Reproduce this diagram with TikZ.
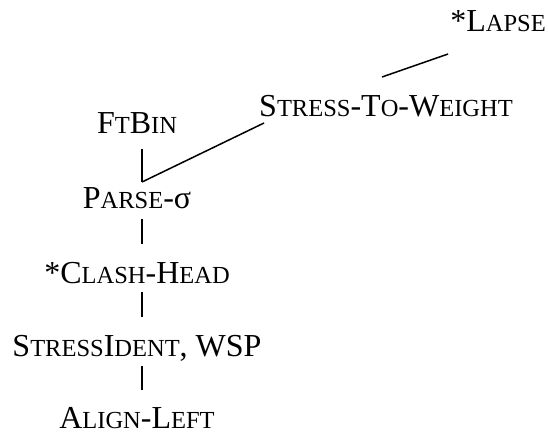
\documentclass[tikz,border=0pt]{standalone}
\usepackage{fontspec}
\setmainfont{Liberation Serif}
\usetikzlibrary{calc}
% faked small capitals: reduced upper-case letters
\newcommand\smc[1]{{\fontsize{24.5}{26}\selectfont #1}}
\tikzset{
  con/.style={font=\fontsize{32}{34}\selectfont, inner sep=0pt, anchor=base},
  link/.style={line width=1.5pt}
}
\begin{document}
\begin{tikzpicture}[x=1pt,y=-1pt]
\useasboundingbox (0,0) rectangle (548,434);
\node[con] (lapse)  at (498,31)  {*L\smc{APSE}};
\node[con] (stw)    at (386,116) {S\smc{TRESS}-T\smc{O}-W\smc{EIGHT}};
\node[con] (ftbin)  at (137,133) {F\smc{T}B\smc{IN}};
\node[con] (parse)  at (137,208) {P\smc{ARSE}-σ};
\node[con] (clash)  at (137,283) {*C\smc{LASH}-H\smc{EAD}};
\node[con] (ident)  at (137,356) {S\smc{TRESS}I\smc{DENT}, WSP};
\node[con] (align)  at (137,428) {A\smc{LIGN}-L\smc{EFT}};
% ranking lines
\draw[link] ([shift={(-2,23)}]lapse.base west) -- ([shift={(-4,-39)}]stw.base);
\draw[link] ([shift={(5,7)}]stw.base west) -- ([shift={(5,-26)}]parse.base);
\draw[link] ([shift={(5,16)}]ftbin.base) -- ([shift={(5,-26)}]parse.base);
\draw[link] ([shift={(5,11)}]parse.base) -- ([shift={(5,-39)}]clash.base);
\draw[link] ([shift={(5,9)}]clash.base) -- ([shift={(5,-39)}]ident.base);
\draw[link] ([shift={(5,10)}]ident.base) -- ([shift={(5,-38)}]align.base);
\end{tikzpicture}
\end{document}
